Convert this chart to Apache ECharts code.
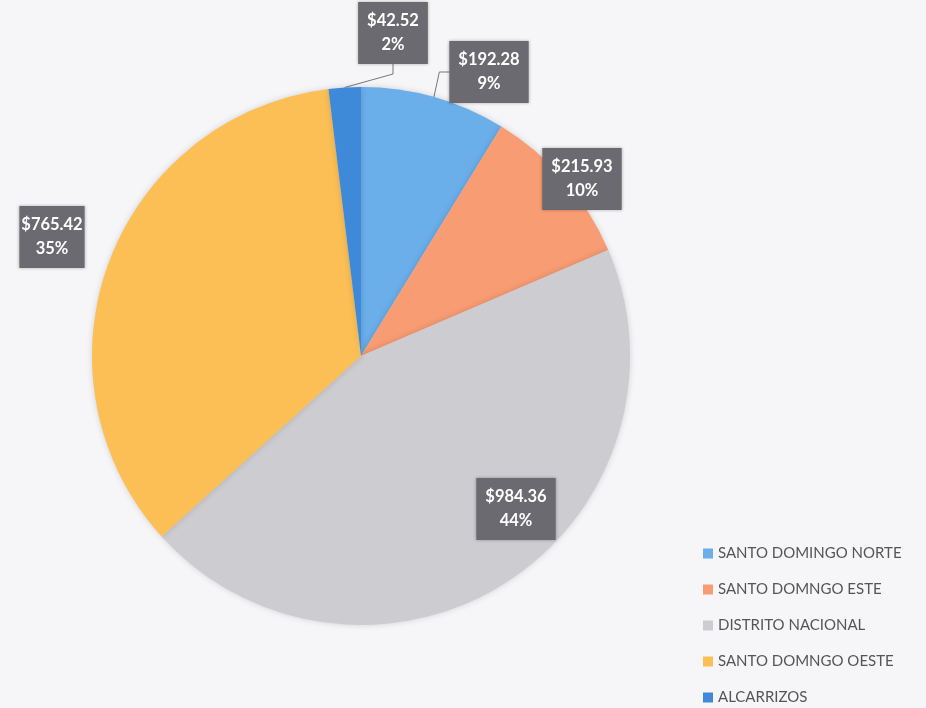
<!DOCTYPE html>
<html><head><meta charset="utf-8">
<script src="https://cdn.jsdelivr.net/npm/echarts@6/dist/echarts.min.js"></script>
<style>html,body{margin:0;padding:0;background:#f6f6f8;}#c{width:926px;height:708px;}</style>
</head><body><div id="c"></div>
<script>
const categories = ['SANTO DOMINGO NORTE','SANTO DOMNGO ESTE','DISTRITO NACIONAL','SANTO DOMNGO OESTE','ALCARRIZOS'];
const values = [192.28, 215.93, 984.36, 765.42, 42.52];
const percentLabels = ['9%','10%','44%','35%','2%'];
const colors = ['#6aaeea','#f89c74','#cdccd1','#fbbf55','#3f8ad8'];
const labelPos = [[489,72],[582,179],[516,509],[52,237],[393,33]];

const chart = echarts.init(document.getElementById('c'));
chart.setOption({
  backgroundColor: '#f6f6f8',
  animation: false,
  legend: {
    orient: 'vertical', left: 703, top: 546, padding: 0,
    itemWidth: 10, itemHeight: 10, itemGap: 21, icon: 'rect',
    textStyle: { fontFamily: 'Lato', fontSize: 15, color: '#555' },
    data: categories
  },
  series: [{
    type: 'pie',
    center: [361, 356],
    radius: 269,
    startAngle: 90,
    clockwise: true,
    data: categories.map((n, i) => ({ name: n, value: values[i], itemStyle: { color: colors[i] },
      labelLine: { show: i === 0 || i === 4 } })),
    itemStyle: { shadowBlur: 6, shadowColor: 'rgba(0,0,0,0.15)' },
    label: {
      show: true, position: 'outside', overflow: 'none', edgeDistance: 0,
      formatter: p => '$' + values[p.dataIndex].toFixed(2) + '\n' + percentLabels[p.dataIndex],
      backgroundColor: '#6b6a70', color: '#fff', fontWeight: 'bold', fontFamily: 'Lato',
      fontSize: 16.5, lineHeight: 24, padding: [7, 9], align: 'center',
      shadowBlur: 3, shadowColor: 'rgba(0,0,0,0.3)'
    },
    labelLine: { lineStyle: { color: '#777', width: 1 }, length: 20, length2: 10 },
    labelLayout: p => ({ x: labelPos[p.dataIndex][0], y: labelPos[p.dataIndex][1], align: 'center', verticalAlign: 'middle' })
  }]
});
</script></body></html>
